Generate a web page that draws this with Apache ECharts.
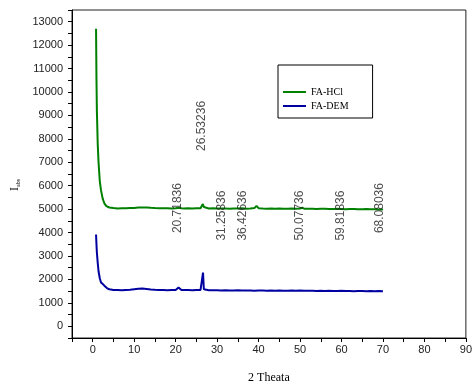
<!DOCTYPE html>
<html>
<head>
<meta charset="utf-8">
<script src="https://cdn.jsdelivr.net/npm/echarts@6/dist/echarts.min.js"></script>
<style>
  html, body { margin: 0; padding: 0; background: #fff; }
  #chart { width: 475px; height: 389px; }
</style>
</head>
<body>
<div id="chart"></div>
<script>
// FA-HCl pattern (green)
const hclTheta = [0.8, 0.9, 1.0, 1.2, 1.4, 1.7, 2.0, 2.4, 2.8, 3.3, 4, 5, 6, 7, 8, 9, 10, 11, 12, 13, 14, 15, 16, 17, 18, 19, 20, 20.7, 21.4, 22, 23, 24, 25, 26, 26.3, 26.55, 26.8, 27.2, 28, 29, 30, 31, 32, 33, 34, 35, 36, 37, 38, 39, 39.5, 40, 41, 42, 43, 44, 45, 46, 47, 48, 49, 50, 50.5, 51, 52, 53, 54, 55, 56, 57, 58, 59, 60, 61, 62, 63, 64, 65, 66, 67, 68, 69, 70];
const hclIntensity = [12700, 10600, 9200, 7800, 7000, 6200, 5800, 5450, 5250, 5130, 5070, 5045, 5030, 5040, 5035, 5045, 5050, 5065, 5075, 5070, 5055, 5045, 5040, 5035, 5040, 5030, 5035, 5060, 5035, 5030, 5040, 5030, 5035, 5040, 5100, 5220, 5090, 5040, 5030, 5035, 5030, 5025, 5030, 5020, 5030, 5025, 5035, 5020, 5030, 5045, 5140, 5040, 5025, 5020, 5030, 5015, 5025, 5020, 5015, 5025, 5020, 5030, 5060, 5020, 5015, 5020, 5010, 5015, 5020, 5010, 5005, 5015, 5010, 5000, 5005, 5010, 4995, 5000, 5005, 4995, 5000, 4990, 4990];

// FA-DEM pattern (blue)
const demTheta = [0.8, 0.9, 1.0, 1.2, 1.4, 1.7, 2.0, 2.5, 3.0, 3.5, 4, 5, 6, 7, 8, 9, 10, 11, 12, 13, 14, 15, 16, 17, 18, 19, 20, 20.7, 21.4, 22, 23, 24, 25, 26, 26.4, 26.6, 26.8, 27.2, 28, 29, 30, 31, 32, 33, 34, 35, 36, 37, 38, 39, 40, 41, 42, 43, 44, 45, 46, 47, 48, 49, 50, 50.3, 51, 52, 53, 54, 55, 56, 57, 58, 59, 60, 61, 62, 63, 64, 65, 66, 67, 68, 69, 70];
const demIntensity = [3920, 3500, 3150, 2720, 2350, 2050, 1870, 1790, 1700, 1620, 1580, 1550, 1545, 1540, 1550, 1555, 1580, 1605, 1610, 1595, 1570, 1555, 1545, 1550, 1540, 1545, 1550, 1660, 1550, 1545, 1550, 1540, 1545, 1550, 1600, 2290, 1580, 1545, 1540, 1535, 1540, 1530, 1535, 1530, 1525, 1535, 1530, 1525, 1530, 1520, 1530, 1525, 1520, 1530, 1520, 1525, 1515, 1520, 1525, 1515, 1530, 1610, 1520, 1515, 1520, 1510, 1515, 1510, 1520, 1505, 1510, 1515, 1505, 1510, 1500, 1505, 1510, 1500, 1505, 1500, 1505, 1500];

// peak annotations (vertical text)
const peakLabels = ['20.71836', '26.53236', '31.25836', '36.42636', '50.07736', '59.81836', '68.08036'];
const peakLabelTheta = [20.5, 26.3, 31.0, 36.1, 50.0, 59.9, 69.2];
const peakLabelLevel = [5045, 8550, 4725, 4725, 4725, 4725, 5045];

const zip = (xs, ys) => xs.map((x, i) => [x, ys[i]]);

const chart = echarts.init(document.getElementById('chart'));

const sansFont = '"Liberation Sans", Arial, sans-serif';
const serifFont = '"Liberation Serif", "Times New Roman", serif';

const option = {
  animation: false,
  backgroundColor: '#fff',
  grid: {
    left: 72, right: 7, top: 10, bottom: 49,
    show: true, borderColor: '#222', borderWidth: 1,
  },
  legend: {
    orient: 'vertical',
    left: 278, top: 65,
    data: ['FA-HCl', 'FA-DEM'],
    icon: 'rect',
    borderColor: '#000', borderWidth: 1,
    padding: [22, 24, 7, 5],
    itemWidth: 23, itemHeight: 2, itemGap: 4,
    textStyle: { fontFamily: serifFont, fontSize: 10, color: '#000' },
  },
  xAxis: {
    type: 'value',
    min: -5, max: 90, interval: 5,
    name: '2 Theata',
    nameLocation: 'middle',
    nameGap: 34,
    nameTextStyle: { fontFamily: serifFont, fontSize: 12, color: '#000' },
    axisLine: { onZero: false, lineStyle: { color: '#000', width: 1 } },
    axisTick: { length: 4, lineStyle: { color: '#000' } },
    axisLabel: {
      margin: 6,
      fontFamily: sansFont, fontSize: 11, color: '#222',
      formatter: v => (v % 10 === 0 && v >= 0 ? String(v) : ''),
    },
    splitLine: { show: false },
  },
  yAxis: {
    type: 'value',
    min: -500, max: 13500, interval: 500,
    axisLine: { show: true, onZero: false, lineStyle: { color: '#000', width: 1 } },
    axisTick: { show: true, length: 4, lineStyle: { color: '#000' } },
    axisLabel: {
      margin: 9,
      fontFamily: sansFont, fontSize: 11, color: '#222',
      formatter: v => (v % 1000 === 0 && v >= 0 ? String(v) : ''),
    },
    splitLine: { show: false },
  },
  graphic: [{
    type: 'text',
    x: 15, y: 185,
    rotation: Math.PI / 2,
    style: {
      text: 'I{s|abs}',
      fontFamily: serifFont, fontSize: 12, fill: '#000',
      align: 'center', verticalAlign: 'middle',
      rich: { s: { fontFamily: serifFont, fontSize: 6, fill: '#000', padding: [6, 0, 0, 0] } },
    },
  }],
  series: [
    {
      name: 'FA-HCl',
      type: 'line',
      data: zip(hclTheta, hclIntensity),
      symbol: 'none',
      lineStyle: { color: '#008000', width: 2 },
      itemStyle: { color: '#008000' },
    },
    {
      name: 'FA-DEM',
      type: 'line',
      data: zip(demTheta, demIntensity),
      symbol: 'none',
      lineStyle: { color: '#0000a0', width: 2 },
      itemStyle: { color: '#0000a0' },
    },
    {
      name: 'peaks',
      type: 'scatter',
      silent: true,
      symbolSize: 0,
      data: peakLabels.map((t, i) => ({ name: t, value: [peakLabelTheta[i], peakLabelLevel[i]] })),
      label: {
        show: true,
        position: 'inside',
        rotate: 90,
        formatter: p => p.name,
        fontFamily: sansFont, fontSize: 12, color: '#222',
      },
      z: 5,
    },
  ],
};

chart.setOption(option);
</script>
</body>
</html>
